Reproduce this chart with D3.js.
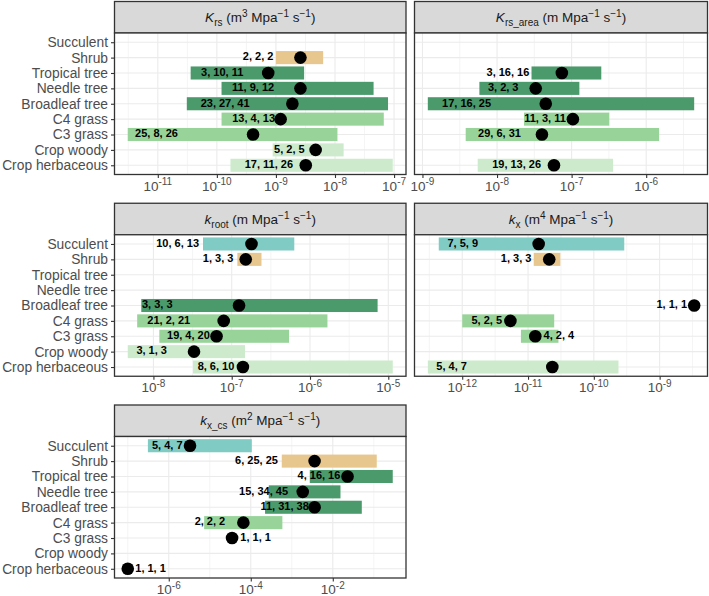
<!DOCTYPE html>
<html><head><meta charset="utf-8">
<script src="https://cdn.jsdelivr.net/npm/d3@7"></script>
<style>body{margin:0;background:#fff} svg{display:block}</style>
</head><body><svg id="chart" width="709" height="596"></svg>
<script>
// ---------------- data ----------------
const categories = ["Succulent","Shrub","Tropical tree","Needle tree","Broadleaf tree","C4 grass","C3 grass","Crop woody","Crop herbaceous"];
const categoryGroup = ["Succulent","Shrub","Tree","Tree","Tree","Grass","Grass","Crop","Crop"];

// K_rs (m3 MPa-1 s-1)
const krsLow  = [null, 1.0e-9, 3.6e-11, 1.2e-10, 3.1e-11, 1.2e-10, 3.1e-12, 8.8e-10, 1.7e-10];
const krsHigh = [null, 6.3e-9, 3.0e-9, 4.5e-8, 7.9e-8, 6.7e-8, 1.1e-8, 1.4e-8, 9.5e-8];
const krsMid  = [null, 2.6e-9, 7.4e-10, 2.6e-9, 1.9e-9, 1.2e-9, 4.1e-10, 4.7e-9, 3.2e-9];
const krsN    = [null, "2, 2, 2", "3, 10, 11", "11, 9, 12", "23, 27, 41", "13, 4, 13", "25, 8, 26", "5, 2, 5", "17, 11, 26"];
const krsLabelAt = [null, 5.0e-10, 1.23e-10, 4.1e-10, 1.38e-10, 4.2e-10, 9.5e-12, 1.69e-9, 7.6e-10];
const krsTicks = [1e-11, 1e-10, 1e-9, 1e-8, 1e-7];

// K_rs_area (m MPa-1 s-1)
const krsAreaLow  = [null, null, 2.9e-8, 5.8e-9, 1.18e-9, 2.3e-8, 3.8e-9, null, 5.5e-9];
const krsAreaHigh = [null, null, 2.5e-7, 1.27e-7, 4.4e-6, 3.2e-7, 1.49e-6, null, 3.6e-7];
const krsAreaMid  = [null, null, 7.4e-8, 3.3e-8, 4.5e-8, 1.04e-7, 4.0e-8, null, 5.8e-8];
const krsAreaN    = [null, null, "3, 16, 16", "3, 2, 3", "17, 16, 25", "11, 3, 11", "29, 6, 31", null, "19, 13, 26"];
const krsAreaLabelAt = [null, null, 1.4e-8, 1.21e-8, 3.9e-9, 4.4e-8, 1.08e-8, null, 1.83e-8];
const krsAreaTicks = [1e-9, 1e-8, 1e-7, 1e-6];

// k_root (m MPa-1 s-1)
const krootLow  = [4.3e-8, 1.18e-7, null, null, 7.0e-9, 6.2e-9, 1.19e-8, 4.7e-9, 3.2e-8];
const krootHigh = [6.3e-7, 2.4e-7, null, null, 7.3e-6, 1.67e-6, 5.4e-7, 1.48e-7, 1.14e-5];
const krootMid  = [1.79e-7, 1.51e-7, null, null, 1.24e-7, 7.9e-8, 6.4e-8, 3.3e-8, 1.39e-7];
const krootN    = ["10, 6, 13", "1, 3, 3", null, null, "3, 3, 3", "21, 2, 21", "19, 4, 20", "3, 1, 3", "8, 6, 10"];
const krootLabelAt = [2.04e-8, 6.7e-8, null, null, 1.12e-8, 1.57e-8, 2.8e-8, 9.5e-9, 6.3e-8];
const krootTicks = [1e-8, 1e-7, 1e-6, 1e-5];

// k_x (m4 MPa-1 s-1)
const kxLow  = [4.4e-13, 1.22e-11, null, null, null, 1.0e-12, 7.8e-12, null, 3.0e-13];
const kxHigh = [2.9e-10, 3.1e-11, null, null, null, 2.5e-11, 2.9e-11, null, 2.37e-10];
const kxMid  = [1.45e-11, 2.1e-11, null, null, 3.35e-9, 5.4e-12, 1.29e-11, null, 2.34e-11];
const kxN    = ["7, 5, 9", "1, 3, 3", null, null, "1, 1, 1", "5, 2, 5", "4, 2, 4", null, "5, 4, 7"];
const kxLabelAt = [1.02e-12, 6.6e-12, null, null, 1.53e-9, 2.36e-12, 2.94e-11, null, 6.9e-13];
const kxTicks = [1e-12, 1e-11, 1e-10, 1e-9];

// k_x_cs (m2 MPa-1 s-1)
const kxcsLow  = [3.1e-7, 5.7e-4, 2.75e-3, 2.75e-4, 2.23e-4, 7.3e-6, null, null, null];
const kxcsHigh = [1.06e-4, 0.118, 0.29, 0.0154, 0.051, 5.9e-4, null, null, null];
const kxcsMid  = [3.3e-6, 3.6e-3, 0.0229, 1.85e-3, 3.6e-3, 6.6e-5, 3.5e-5, null, 1.0e-7];
const kxcsN    = ["5, 4, 7", "6, 25, 25", "4, 16, 16", "15, 34, 45", "11, 31, 38", "2, 2, 2", "1, 1, 1", null, "1, 1, 1"];
const kxcsLabelAt = [9.2e-7, 1.38e-4, 4.6e-3, 2.05e-4, 6.7e-4, 1.01e-5, 1.31e-4, null, 3.6e-7];
const kxcsTicks = [1e-6, 1e-4, 1e-2];

// ---------------- styles / layout ----------------
const FONT = "'Liberation Sans', Arial, Helvetica, sans-serif";
const groupColor = d3.scaleOrdinal()
  .domain(["Succulent","Shrub","Tree","Grass","Crop"])
  .range(["#80cbc4","#e7c78d","#4b9a6b","#98d49a","#cdebcc"]);

const panels = [
  {title:[["K","it"],["rs","sub"],[" (m"],["3","sup"],[" Mpa"],["\u22121","sup"],[" s"],["\u22121","sup"],[")"]],
   low:krsLow, high:krsHigh, mid:krsMid, n:krsN, labelAt:krsLabelAt, ticks:krsTicks, col:0, row:0},
  {title:[["K","it"],["rs_area","sub"],[" (m Mpa"],["\u22121","sup"],[" s"],["\u22121","sup"],[")"]],
   low:krsAreaLow, high:krsAreaHigh, mid:krsAreaMid, n:krsAreaN, labelAt:krsAreaLabelAt, ticks:krsAreaTicks, col:1, row:0},
  {title:[["k","it"],["root","sub"],[" (m Mpa"],["\u22121","sup"],[" s"],["\u22121","sup"],[")"]],
   low:krootLow, high:krootHigh, mid:krootMid, n:krootN, labelAt:krootLabelAt, ticks:krootTicks, col:0, row:1},
  {title:[["k","it"],["x","sub"],[" (m"],["4","sup"],[" Mpa"],["\u22121","sup"],[" s"],["\u22121","sup"],[")"]],
   low:kxLow, high:kxHigh, mid:kxMid, n:kxN, labelAt:kxLabelAt, ticks:kxTicks, col:1, row:1},
  {title:[["k","it"],["x_cs","sub"],[" (m"],["2","sup"],[" Mpa"],["\u22121","sup"],[" s"],["\u22121","sup"],[")"]],
   low:kxcsLow, high:kxcsHigh, mid:kxcsMid, n:kxcsN, labelAt:kxcsLabelAt, ticks:kxcsTicks, col:0, row:2}
];

const colX = [[114.5, 406], [414.5, 707.5]];
const rowTop = [1.5, 203.25, 405];
const stripH = 31.5, plotH = 141.5;
const BORDER = "#333333", GRID = "#ebebeb", AXT = "#4d4d4d";

const svg = d3.select("#chart").style("font-family", FONT);

panels.forEach(p => {
  const [x0, x1] = colX[p.col];
  const top = rowTop[p.row];
  const py0 = top + stripH, py1 = py0 + plotH;

  const vals = [...p.low, ...p.high, ...p.mid].filter(v => v != null).map(Math.log10);
  const [mn, mx] = d3.extent(vals);
  const pad = (mx - mn) * 0.05;
  const x = d3.scaleLog().domain([10 ** (mn - pad), 10 ** (mx + pad)]).range([x0, x1]);
  const y = d3.scalePoint().domain(categories).range([py0, py1]).padding(0.6);
  const barH = y.step() * 0.85;

  const rows = categories.map((c, i) => ({cat: c, group: categoryGroup[i], low: p.low[i], high: p.high[i],
    mid: p.mid[i], n: p.n[i], at: p.labelAt[i]}));

  const g = svg.append("g");

  // strip
  g.append("rect").attr("x", x0).attr("y", top).attr("width", x1 - x0).attr("height", stripH)
    .attr("fill", "#d9d9d9").attr("stroke", BORDER).attr("stroke-width", 1.3);
  const tt = g.append("text").attr("x", (x0 + x1) / 2).attr("y", top + stripH / 2 + 4.5)
    .attr("text-anchor", "middle").attr("font-size", 13.5).attr("fill", "#1a1a1a");
  let cur = 0;
  p.title.forEach(([s, kind]) => {
    const off = kind === "sub" ? 4 : kind === "sup" ? -5 : 0;
    const ts = tt.append("tspan").text(s).attr("dy", off - cur);
    if (kind === "sub" || kind === "sup") ts.attr("font-size", 10);
    if (kind === "it") ts.attr("font-style", "italic");
    cur = off;
  });

  // panel background
  g.append("rect").attr("x", x0).attr("y", py0).attr("width", x1 - x0).attr("height", plotH).attr("fill", "#fff");

  // grid
  const majL = p.ticks.map(Math.log10);
  const st = majL[1] - majL[0];
  const ext = [majL[0] - st, ...majL, majL[majL.length - 1] + st];
  const dom = x.domain();
  const minors = d3.pairs(ext).map(([a, b]) => 10 ** ((a + b) / 2)).filter(v => v >= dom[0] && v <= dom[1]);
  g.selectAll(".minor").data(minors).join("line")
    .attr("x1", d => x(d)).attr("x2", d => x(d)).attr("y1", py0).attr("y2", py1)
    .attr("stroke", GRID).attr("stroke-width", 0.55);
  g.selectAll(".majorx").data(p.ticks).join("line")
    .attr("x1", d => x(d)).attr("x2", d => x(d)).attr("y1", py0).attr("y2", py1)
    .attr("stroke", GRID).attr("stroke-width", 1.1);
  g.selectAll(".majory").data(categories).join("line")
    .attr("x1", x0).attr("x2", x1).attr("y1", d => y(d)).attr("y2", d => y(d))
    .attr("stroke", GRID).attr("stroke-width", 1.1);

  // bars
  g.selectAll(".bar").data(rows.filter(r => r.low != null && r.high != null)).join("rect")
    .attr("x", r => x(r.low)).attr("width", r => x(r.high) - x(r.low))
    .attr("y", r => y(r.cat) - barH / 2).attr("height", barH)
    .attr("fill", r => groupColor(r.group));

  // labels
  g.selectAll(".lab").data(rows.filter(r => r.n != null)).join("text")
    .attr("x", r => x(r.at)).attr("y", r => y(r.cat) + 2.8)
    .attr("text-anchor", "middle").attr("font-size", 11).attr("font-weight", "bold").attr("fill", "#000")
    .text(r => r.n);

  // points
  g.selectAll(".pt").data(rows.filter(r => r.mid != null)).join("circle")
    .attr("cx", r => x(r.mid)).attr("cy", r => y(r.cat)).attr("r", 6.3).attr("fill", "#000");

  // border
  g.append("rect").attr("x", x0).attr("y", py0).attr("width", x1 - x0).attr("height", plotH)
    .attr("fill", "none").attr("stroke", BORDER).attr("stroke-width", 1.3);

  // x axis
  const ax = g.append("g").attr("transform", `translate(0,${py1})`)
    .call(d3.axisBottom(x).tickValues(p.ticks).tickSize(3.5).tickFormat(""));
  ax.select(".domain").remove();
  ax.selectAll(".tick line").attr("stroke", BORDER).attr("stroke-width", 1.1);
  p.ticks.forEach(t => {
    const lt = g.append("text").attr("x", x(t)).attr("y", py1 + 16).attr("text-anchor", "middle")
      .attr("font-size", 13.5).attr("fill", AXT);
    lt.append("tspan").text("10");
    lt.append("tspan").attr("dy", -5.5).attr("font-size", 10).text(Math.round(Math.log10(t)));
  });

  // y axis (left column only)
  if (p.col === 0) {
    const ay = g.append("g").attr("transform", `translate(${x0},0)`)
      .call(d3.axisLeft(y).tickSize(3.5).tickPadding(3));
    ay.select(".domain").remove();
    ay.selectAll(".tick line").attr("stroke", BORDER).attr("stroke-width", 1.1);
    ay.selectAll(".tick text").attr("font-size", 13.8).attr("fill", AXT).attr("font-family", FONT);
  }
});
</script>
</body></html>
